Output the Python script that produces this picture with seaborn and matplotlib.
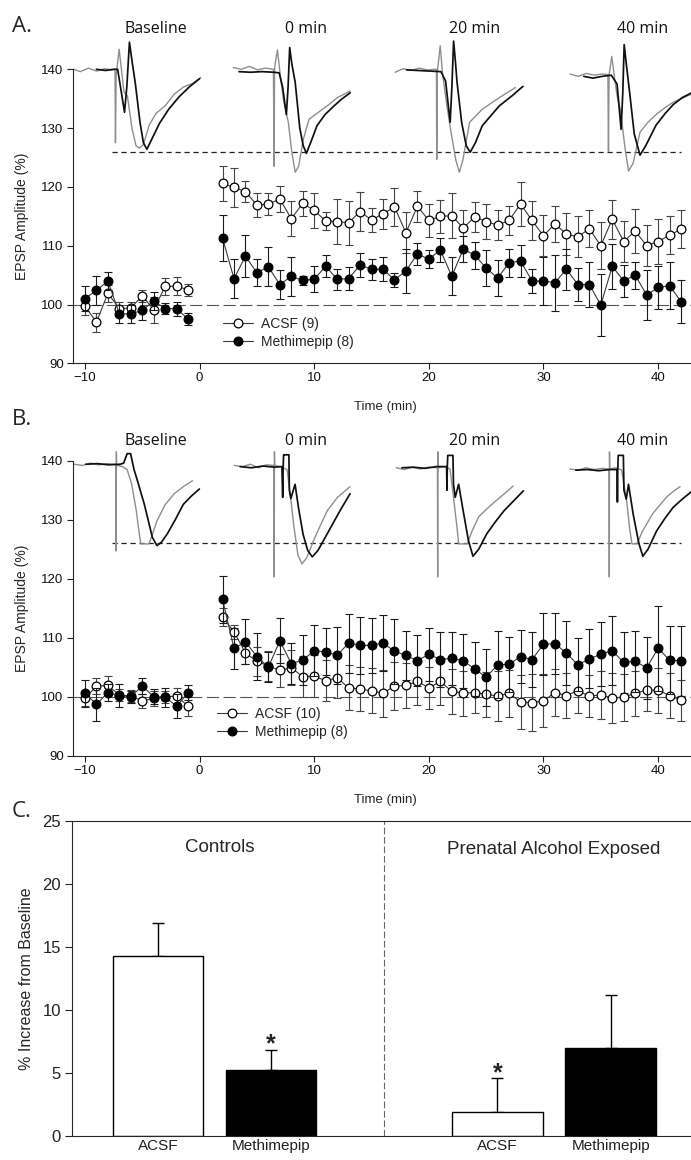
import numpy as np
import pandas as pd
import matplotlib
matplotlib.use("Agg")
import matplotlib.pyplot as plt
from matplotlib.lines import Line2D
import seaborn as sns

sns.set_style("ticks")
plt.rcParams["font.family"] = ["Liberation Sans", "DejaVu Sans"]
plt.rcParams["axes.linewidth"] = 0.8
plt.rcParams["xtick.color"] = "#222222"
plt.rcParams["ytick.color"] = "#222222"

# ---------------- data ----------------
T_PRE = [-10, -9, -8, -7, -6, -5, -4, -3, -2, -1]
T_POST = list(range(2, 43))

# Panel A
A_ACSF_PRE = [99.7, 97.0, 101.9, 99.3, 99.4, 101.5, 99.1, 103.1, 103.1, 102.5]
A_ACSF_PRE_SEM = [1.5, 1.6, 1.4, 1.2, 1.0, 1.0, 2.2, 1.4, 1.5, 1.0]
A_METH_PRE = [101.0, 102.4, 104.0, 98.4, 98.4, 99.0, 100.6, 99.3, 99.3, 97.5]
A_METH_PRE_SEM = [2.1, 2.4, 1.5, 1.5, 1.5, 1.7, 1.5, 1.0, 1.2, 1.0]
A_ACSF_POST = [120.6, 119.9, 119.2, 116.9, 117.1, 117.9, 114.6, 117.2, 116.0, 114.2, 114.1, 113.9,
               115.8, 114.4, 115.4, 116.6, 112.2, 116.7, 114.3, 115.0, 115.1, 113.0, 114.9, 114.1,
               113.5, 114.3, 117.1, 114.3, 111.7, 113.7, 112.0, 111.5, 112.9, 110.0, 114.5, 110.7,
               112.5, 110.0, 110.7, 111.8, 112.8]
A_ACSF_POST_SEM = [3.0, 3.3, 1.8, 2.0, 1.9, 2.2, 3.0, 2.1, 3.0, 1.6, 3.8, 3.7,
                   3.3, 2.0, 2.6, 3.2, 3.5, 2.6, 2.8, 2.8, 3.8, 3.0, 2.5, 3.0,
                   2.5, 2.5, 3.8, 3.3, 3.5, 3.0, 3.5, 3.5, 3.2, 4.0, 3.3, 3.5,
                   3.8, 3.5, 3.8, 3.2, 3.2]
A_METH_POST = [111.3, 104.4, 108.2, 105.4, 106.4, 103.4, 104.8, 104.1, 104.3, 106.5, 104.3, 104.4,
               106.7, 106.0, 106.0, 104.2, 105.7, 108.6, 107.7, 109.3, 104.8, 109.4, 108.4, 106.2,
               104.5, 107.1, 107.4, 104.0, 104.0, 103.7, 106.0, 103.4, 103.4, 99.9, 106.5, 104.0,
               105.0, 101.6, 102.9, 103.2, 100.5]
A_METH_POST_SEM = [3.9, 3.3, 3.6, 2.3, 3.3, 2.5, 3.3, 0.8, 2.2, 1.9, 1.8, 2.0,
                   2.0, 1.8, 2.0, 1.2, 3.8, 1.8, 1.5, 2.0, 3.2, 2.2, 2.3, 3.0,
                   3.0, 2.4, 2.8, 2.0, 4.0, 4.8, 3.5, 2.8, 3.8, 5.3, 3.8, 2.8,
                   2.3, 4.2, 3.6, 4.0, 3.7]

# Panel B
B_ACSF_PRE = [99.7, 101.8, 101.9, 100.3, 100.1, 99.3, 99.7, 100.0, 100.1, 98.4]
B_ACSF_PRE_SEM = [1.2, 1.3, 1.6, 1.0, 1.0, 1.2, 1.3, 1.0, 1.3, 1.6]
B_METH_PRE = [100.6, 98.7, 100.7, 100.2, 100.0, 101.8, 100.0, 99.9, 98.4, 100.7]
B_METH_PRE_SEM = [2.3, 2.8, 1.5, 2.0, 1.0, 1.3, 1.3, 1.6, 2.0, 1.3]
B_ACSF_POST = [113.5, 111.0, 107.4, 106.0, 105.2, 104.5, 104.9, 103.4, 103.5, 102.7, 103.2, 101.5,
               101.3, 101.0, 100.6, 101.8, 101.9, 102.6, 101.5, 102.6, 100.9, 100.6, 100.7, 100.4,
               100.1, 100.6, 99.1, 99.0, 99.3, 100.7, 100.2, 101.0, 100.1, 100.3, 99.8, 99.9,
               100.6, 101.1, 101.1, 100.2, 99.4]
B_ACSF_POST_SEM = [1.5, 1.2, 1.8, 2.5, 2.5, 2.8, 3.0, 3.5, 3.5, 3.5, 3.5, 3.8,
                   3.8, 3.8, 4.0, 4.0, 3.8, 4.0, 3.5, 4.0, 3.8, 3.8, 3.5, 3.8,
                   4.2, 4.0, 4.5, 4.8, 4.5, 4.0, 3.8, 3.8, 3.5, 4.0, 4.2, 4.0,
                   3.8, 3.5, 3.8, 3.8, 3.5]
B_METH_POST = [116.5, 108.2, 109.3, 106.8, 105.0, 109.5, 105.6, 106.2, 107.8, 107.6, 107.0, 109.1,
               108.7, 108.7, 109.1, 107.7, 107.0, 106.1, 107.2, 106.3, 106.5, 106.1, 104.7, 103.3,
               105.4, 105.5, 106.8, 106.3, 108.9, 109.0, 107.4, 105.4, 106.4, 107.2, 107.8, 105.8,
               106.0, 104.9, 108.2, 106.2, 106.1]
B_METH_POST_SEM = [4.0, 3.5, 3.8, 4.0, 2.5, 3.8, 3.5, 4.2, 4.3, 4.0, 4.8, 5.0,
                   4.8, 4.7, 4.8, 5.5, 4.2, 4.3, 4.5, 4.6, 4.5, 4.6, 4.6, 4.8,
                   5.7, 4.7, 4.5, 4.7, 5.3, 5.2, 5.4, 4.5, 5.0, 5.4, 5.8, 5.2,
                   5.2, 5.3, 7.2, 5.7, 5.9]

# Example EPSP traces (keypoints: time offset, value)
TRACE_TITLES = ["Baseline", "0 min", "20 min", "40 min"]
A_TRACE_T0 = [-11.0, 2.94, 17.06, 32.32]
A_GRAY = [
    ([0, 0.6, 1.3, 2.0, 2.7, 3.3, 3.62, 3.66, 3.72, 3.98, 4.15, 4.4, 4.7, 5.1, 5.45, 5.75, 6.1, 6.6, 7.2, 8.0, 8.8, 9.6, 10.4, 11.1],
     [140, 139.6, 140.2, 139.7, 140.1, 139.9, 140, 127.5, 139.0, 143.4, 140.5, 136.2, 135.5, 130.0, 127.0, 126.6, 127.2, 130.5, 132.5, 133.8, 135.8, 137.0, 137.6, 138.6]),
    ([0, 0.7, 1.4, 2.1, 2.8, 3.5, 3.56, 3.6, 3.66, 3.85, 4.1, 4.4, 4.8, 5.1, 5.4, 5.7, 6.1, 6.6, 7.3, 8.2, 9.1, 10.2],
     [140.3, 140.0, 140.5, 139.9, 140.2, 140.0, 123.5, 140, 141, 143.3, 139, 134.5, 131, 126, 122.5, 123.5, 128, 131.5, 132.5, 133.8, 135.2, 136.3]),
    ([0, 0.7, 1.4, 2.1, 2.8, 3.5, 3.6, 3.63, 3.68, 3.93, 4.15, 4.5, 4.9, 5.3, 5.6, 5.9, 6.5, 7.6, 9.1, 10.5],
     [139.5, 140.1, 139.8, 140.2, 139.9, 140, 140, 124.7, 139.5, 144, 139, 134, 129, 124.5, 122.5, 124.5, 131, 133.2, 135.2, 136.9]),
    ([0, 0.7, 1.4, 2.1, 2.8, 3.3, 3.35, 3.4, 3.64, 3.85, 4.1, 4.4, 4.8, 5.1, 5.5, 6.1, 6.8, 7.5, 8.3, 9.0, 10.5],
     [139.2, 138.8, 139.3, 139.0, 139.2, 139.1, 126, 139, 142.2, 139, 135.5, 133, 126.5, 122.7, 124, 129.3, 131, 132.3, 133.5, 134.4, 135.7]),
]
A_BLACK = [
    ([2.0, 2.8, 3.5, 3.85, 4.1, 4.45, 4.65, 4.88, 5.1, 5.4, 5.8, 6.1, 6.4, 6.8, 7.5, 8.3, 9.2, 10.1, 11.0],
     [140, 139.8, 140, 140, 137, 132.7, 137, 144.6, 141.5, 137.5, 131, 127.5, 126.4, 128, 130.8, 133.2, 135.3, 137, 138.4]),
    ([0.5, 1.5, 2.5, 3.5, 4.0, 4.3, 4.63, 4.78, 4.92, 5.1, 5.4, 5.8, 6.1, 6.38, 6.8, 7.3, 8.0, 8.8, 9.5, 10.2],
     [139.6, 139.5, 139.6, 139.5, 139.4, 137, 132.3, 137, 143.7, 141, 137.8, 130, 127, 125.7, 127.8, 130.4, 132.3, 133.8, 135, 136]),
    ([1.0, 2.0, 3.0, 4.0, 4.4, 4.8, 4.95, 5.1, 5.25, 5.4, 5.8, 6.2, 6.55, 7.0, 7.6, 8.3, 9.1, 10.2, 11.15],
     [139.9, 139.8, 139.7, 139.6, 138, 131, 137, 144.8, 141.5, 137.8, 131, 127, 125.9, 127.5, 130.4, 132, 133.8, 135.5, 137.1]),
    ([1.2, 2.0, 2.8, 3.6, 4.1, 4.45, 4.6, 4.72, 4.9, 5.2, 5.6, 6.1, 6.6, 7.5, 8.3, 9.0, 9.8, 10.6],
     [138.8, 138.5, 138.8, 139.0, 137.5, 129.8, 136, 144.2, 141, 136, 129, 125.4, 127, 130.5, 132.5, 134, 135.2, 136]),
]
B_TRACE_T0 = [-10.92, 3.03, 17.15, 32.32]
B_GRAY = [
    ([0, 0.7, 1.4, 2.1, 2.8, 3.4, 3.62, 3.64, 3.66, 3.68, 3.75, 4.2, 4.6, 5.0, 5.4, 5.7, 5.8, 6.5, 6.8, 7.2, 7.9, 8.7, 9.5, 10.3],
     [139.4, 139.2, 139.6, 139.3, 139.5, 139.4, 139.4, 124.7, 141.5, 139.4, 139.2, 139.0, 138.5, 136, 131.5, 127, 125.9, 125.9, 127.5, 129.8, 132.5, 134.4, 135.6, 136.6]),
    ([0, 0.7, 1.4, 2.1, 2.8, 3.45, 3.48, 3.5, 3.52, 3.55, 4.0, 4.6, 4.9, 5.2, 5.55, 5.9, 6.3, 6.9, 7.5, 8.1, 9.0, 10.1],
     [139.2, 139.0, 139.4, 138.8, 139.3, 139.2, 120.3, 141.5, 139.5, 139.2, 139.0, 138.5, 134, 128.8, 124, 122.5, 123.5, 126.4, 129, 131.5, 133.8, 135.6]),
    ([0, 0.7, 1.4, 2.1, 2.8, 3.6, 3.62, 3.64, 3.66, 3.7, 4.2, 4.7, 5.0, 5.3, 5.45, 6.2, 6.6, 7.2, 8.0, 8.7, 9.5, 10.2],
     [138.8, 138.5, 138.9, 138.6, 138.9, 138.8, 120.3, 141.5, 138.8, 138.8, 139.0, 138.6, 133.8, 128.8, 125.9, 125.9, 128, 130.5, 132, 133.2, 134.5, 135.7]),
    ([0, 0.7, 1.4, 2.1, 2.8, 3.4, 3.42, 3.44, 3.46, 3.5, 4.0, 4.5, 4.95, 5.2, 5.4, 5.85, 6.3, 7.2, 8.4, 9.0, 9.6],
     [138.6, 138.4, 138.8, 138.5, 138.7, 138.6, 120.3, 141.5, 138.6, 138.6, 138.8, 138.4, 133, 128.5, 125.9, 125.9, 128, 131, 133.8, 134.8, 135.6]),
]
B_BLACK = [
    ([1.0, 2.0, 3.0, 4.0, 4.3, 4.6, 4.9, 5.2, 5.5, 6.1, 6.8, 7.2, 7.6, 8.1, 8.8, 9.5, 10.2, 10.9],
     [139.4, 139.5, 139.3, 139.4, 139.6, 141.2, 141.2, 138.5, 136.6, 132.6, 127, 125.6, 126.2, 127.6, 130, 132.6, 134, 135.2]),
    ([0.5, 1.5, 2.5, 3.5, 4.15, 4.22, 4.26, 4.3, 4.36, 4.76, 4.8, 4.93, 5.3, 5.6, 6.0, 6.4, 6.8, 7.3, 8.1, 9.3, 10.1],
     [139.0, 138.8, 139.1, 138.9, 139.0, 133.8, 139, 141, 141, 141, 135, 133.6, 136, 132, 127.5, 124.8, 123.7, 124.8, 127.6, 131.8, 134.4]),
    ([0.5, 1.5, 2.5, 3.5, 4.4, 4.43, 4.46, 4.5, 4.95, 5.0, 5.15, 5.45, 5.8, 6.3, 6.7, 7.2, 7.9, 8.6, 9.4, 10.3, 11.1],
     [138.8, 138.9, 138.7, 139.0, 139.0, 135, 139, 140.9, 140.9, 136, 133.8, 136, 132, 126.5, 123.8, 125, 127.6, 129.5, 131.5, 133.3, 134.9]),
    ([0.5, 1.5, 2.5, 3.5, 4.1, 4.13, 4.16, 4.2, 4.65, 4.7, 4.9, 5.1, 5.5, 6.0, 6.35, 6.8, 7.55, 8.3, 9.0, 9.8, 10.55],
     [138.4, 138.5, 138.3, 138.5, 138.5, 133, 138.5, 140.9, 140.9, 135, 133.5, 136, 131, 126, 123.8, 125, 128.1, 130.3, 132.1, 133.5, 134.7]),
]
TRACE_REF_LEVEL = 126.0

# Panel C
C_GROUPS = ["Controls", "Controls", "Prenatal Alcohol Exposed", "Prenatal Alcohol Exposed"]
C_TREAT = ["ACSF", "Methimepip", "ACSF", "Methimepip"]
C_MEAN = [14.3, 5.2, 1.9, 7.0]
C_SEM = [2.6, 1.6, 2.7, 4.2]
C_POS = [0, 1, 3, 4]

# ---------------- layout ----------------
W, H = 691, 1160
fig = plt.figure(figsize=(W / 100, H / 100), dpi=100)


def ax_px(left, top, right, bottom):
    a = fig.add_axes([left / W, 1 - bottom / H, (right - left) / W, (bottom - top) / H])
    a.set_facecolor("none")
    return a


OPEN_SANS = ["Open Sans", "DejaVu Sans"]
NARROW = ["Liberation Sans Narrow", "Liberation Sans", "DejaVu Sans"]


def timecourse(ax, acsf_pre, acsf_pre_sem, acsf_post, acsf_post_sem,
               meth_pre, meth_pre_sem, meth_post, meth_post_sem,
               t0s, grays, blacks, title_y, labels, leg_xy):
    ax.set_xlim(-11.07, 42.87)
    ax.set_ylim(90, 150)
    ax.axhline(100, color="#555555", lw=0.8, dashes=(11, 4), zorder=1)

    groups = [
        ("ACSF", acsf_pre, acsf_pre_sem, acsf_post, acsf_post_sem, "white", "#444444", 3),
        ("Methimepip", meth_pre, meth_pre_sem, meth_post, meth_post_sem, "black", "#1a1a1a", 5),
    ]
    for name, pre, pre_s, post, post_s, face, ecol, z in groups:
        df = pd.DataFrame({
            "t": T_PRE + T_POST,
            "v": list(pre) + list(post),
            "sem": list(pre_s) + list(post_s),
            "seg": ["pre"] * len(T_PRE) + ["post"] * len(T_POST),
        })
        ax.errorbar(df["t"], df["v"], yerr=df["sem"], fmt="none", ecolor=ecol,
                    elinewidth=0.8, capsize=2.6, capthick=0.8, zorder=z - 0.5)
        sns.lineplot(data=df, x="t", y="v", units="seg", estimator=None, ax=ax,
                     color="#3a3a3a", linewidth=0.8, marker="o", markersize=6.3,
                     markerfacecolor=face, markeredgecolor="black",
                     markeredgewidth=0.9, zorder=z, legend=False)

    # example traces
    for t0, (gdt, gv), (bdt, bv) in zip(t0s, grays, blacks):
        ax.plot([t0 + d for d in gdt], gv, color="#8e8e8e", lw=1.0, zorder=2)
        ax.plot([t0 + d for d in bdt], bv, color="#111111", lw=1.25, zorder=2.2)
    ax.plot([-7.61, 42.0], [TRACE_REF_LEVEL, TRACE_REF_LEVEL], color="#222222",
            lw=0.9, dashes=(4.2, 3.0), zorder=1.5)
    for tx, title in zip([-3.8, 9.25, 24.03, 38.62], TRACE_TITLES):
        ax.text(tx, title_y, title, ha="center", va="baseline", fontsize=11.5,
                family=OPEN_SANS, color="#111111")

    ax.set_xticks([-10, 0, 10, 20, 30, 40])
    ax.set_yticks([90, 100, 110, 120, 130, 140])
    ax.spines["left"].set_bounds(90, 140)
    ax.spines["top"].set_visible(False)
    ax.spines["right"].set_visible(False)
    ax.tick_params(axis="both", length=4, width=0.8, labelsize=9.5, pad=2.5,
                   labelcolor="#111111")
    ax.set_xlabel("Time (min)", fontsize=9.5)
    ax.set_ylabel("EPSP Amplitude (%)", fontsize=10)
    ax.xaxis.set_label_coords(0.505, -0.108)
    ax.yaxis.set_label_coords(-0.071, 25 / 60)

    handles = [
        Line2D([], [], color="#3a3a3a", lw=0.8, marker="o", ms=6.3, mfc="white",
               mec="black", mew=0.9),
        Line2D([], [], color="#3a3a3a", lw=0.8, marker="o", ms=6.3, mfc="black",
               mec="black", mew=0.9),
    ]
    ax.legend(handles, labels, loc="upper left",
              bbox_to_anchor=(leg_xy[0] / W, 1 - leg_xy[1] / H),
              bbox_transform=fig.transFigure, frameon=False, fontsize=10,
              handlelength=2.15, handletextpad=0.6, labelspacing=0.3,
              borderpad=0, borderaxespad=0)


axA = ax_px(72.7, 363.3 - 60 * 5.88, 691, 363.3)
timecourse(axA, A_ACSF_PRE, A_ACSF_PRE_SEM, A_ACSF_POST, A_ACSF_POST_SEM,
           A_METH_PRE, A_METH_PRE_SEM, A_METH_POST, A_METH_POST_SEM,
           A_TRACE_T0, A_GRAY, A_BLACK, 146.1, ["ACSF (9)", "Methimepip (8)"], (223, 317))

axB = ax_px(72.7, 755.7 - 60 * 5.9, 691, 755.7)
timecourse(axB, B_ACSF_PRE, B_ACSF_PRE_SEM, B_ACSF_POST, B_ACSF_POST_SEM,
           B_METH_PRE, B_METH_PRE_SEM, B_METH_POST, B_METH_POST_SEM,
           B_TRACE_T0, B_GRAY, B_BLACK, 142.7, ["ACSF (10)", "Methimepip (8)"], (217, 707))

# ---------------- panel C ----------------
axC = ax_px(72, 821, 691, 1136)
dfc = pd.DataFrame({"pos": C_POS, "value": C_MEAN, "treat": C_TREAT, "group": C_GROUPS})
sns.barplot(data=dfc, x="pos", y="value", hue="treat", native_scale=True, dodge=False,
            palette={"ACSF": "white", "Methimepip": "black"}, edgecolor="black",
            linewidth=1.0, width=0.8, errorbar=None, legend=False, ax=axC, zorder=2)
axC.errorbar(dfc["pos"], dfc["value"], yerr=[[0] * 4, C_SEM], fmt="none",
             ecolor="black", elinewidth=1.0, capsize=4.5, capthick=1.0, zorder=1.5)
axC.axvline(2, color="#666666", lw=0.8, dashes=(6, 2.5), zorder=1)
axC.set_xlim(-0.76, 4.71)
axC.set_ylim(0, 25)
axC.set_yticks([0, 5, 10, 15, 20, 25])
axC.set_xticks(C_POS)
axC.set_xticklabels(C_TREAT)
for lab in axC.get_xticklabels() + axC.get_yticklabels():
    lab.set_family(NARROW)
axC.tick_params(axis="x", length=0, pad=2.5, labelsize=11)
axC.tick_params(axis="y", length=5, width=0.8, pad=3, labelsize=12)
axC.spines["right"].set_visible(False)
axC.set_xlabel("")
axC.set_ylabel("% Increase from Baseline", fontsize=11.5)
axC.yaxis.set_label_coords(-0.062, 0.5)
axC.text(0.55, 22.9, "Controls", ha="center", va="center", fontsize=13.5)
axC.text(3.5, 22.7, "Prenatal Alcohol Exposed", ha="center", va="center", fontsize=13.5)
for x, y in [(1, 7.86), (3, 5.56)]:
    axC.annotate("*", xy=(x, y), xytext=(0, -10), textcoords="offset points",
                 ha="center", va="baseline", fontsize=18, fontweight="bold")

# panel letters
for txt, y in [("A.", 32), ("B.", 425), ("C.", 817)]:
    fig.text(12 / W, 1 - y / H, txt, fontsize=16, family=OPEN_SANS, va="baseline", ha="left")

fig.savefig("out.png", dpi=100)
